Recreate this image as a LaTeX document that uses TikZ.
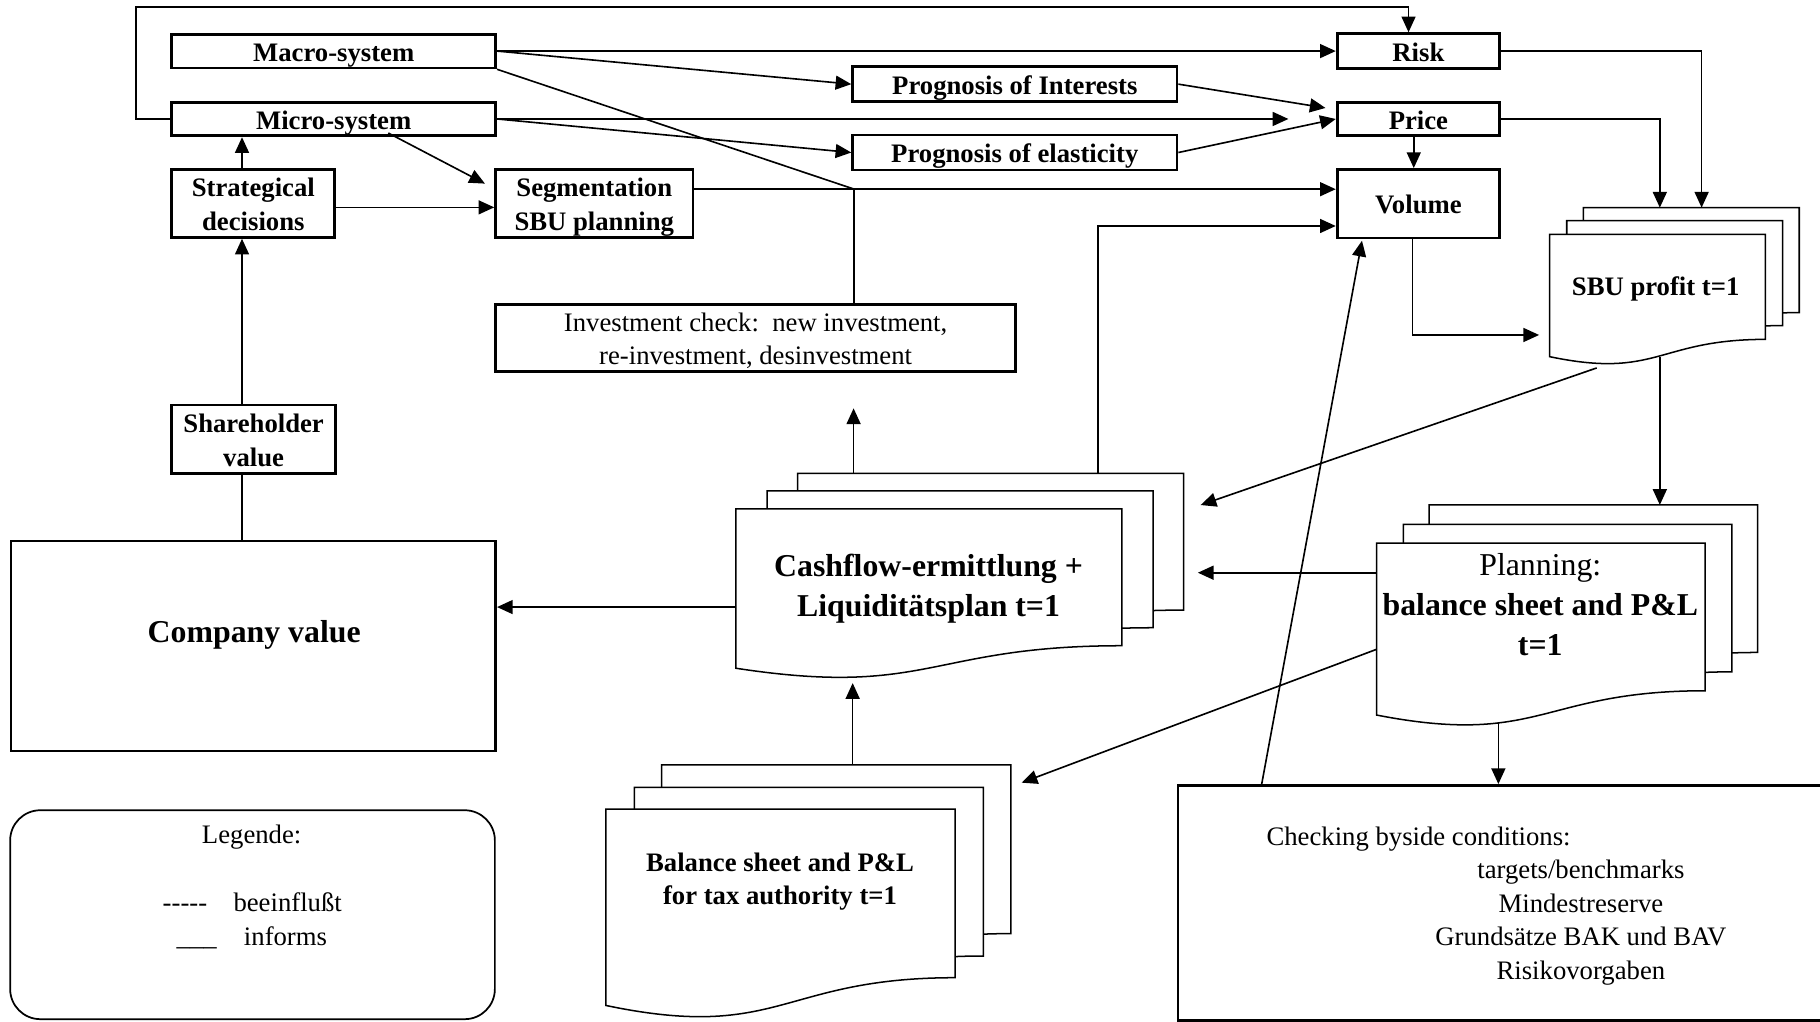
\documentclass[tikz,border=0pt]{standalone}
\usepackage{fontspec}
\setmainfont{Liberation Serif}
\usetikzlibrary{arrows.meta,calc}

\newcommand{\smallfont}{\fontsize{23}{29}\selectfont}
\newcommand{\bigfont}{\fontsize{27.4}{34.5}\selectfont}
% centred block of lines, set 3pt lower in its frame without changing its total size
\newcommand{\ml}[1]{\raisebox{0pt}[\dimexpr\height+3pt\relax][\dimexpr\depth-3pt\relax]{\begin{tabular}{@{}c@{}}#1\end{tabular}}}

% one sheet of a document stack: x, top y, width, height (wavy lower edge)
\newcommand{\docpage}[4]{%
  \filldraw[docline] (#1,#2) -- (#1+#3,#2) -- (#1+#3,#2+0.802*#4)
    .. controls (#1+0.5*#3,#2+0.802*#4) and (#1+0.5*#3,#2+1.1075*#4) .. (#1,#2+0.934*#4) -- cycle;}

\begin{document}
\begin{tikzpicture}[x=1pt,y=-1pt,
  box/.style={draw, line width=2.4pt, inner sep=0pt, font=\smallfont\bfseries},
  docline/.style={draw, line width=1.3pt, fill=white},
  conn/.style={line width=1.4pt},
  arr/.style={conn, -{Triangle[length=13.5pt,width=12pt]}},
  txt/.style={inner sep=0pt, font=\smallfont}]
\useasboundingbox (0,0) rectangle (1568,880);
\clip (0,0) rectangle (1568,880);

% ---------- rectangular boxes ----------
\node[box, minimum width=279pt, minimum height=28pt] (macro) at (287.5,44) {\ml{Macro-system}};
\node[box, minimum width=279pt, minimum height=29pt] (micro) at (287.5,102.5) {\ml{Micro-system}};
\node[box, minimum width=140.5pt, minimum height=58.5pt] (strat) at (218.25,175.25) {\ml{Strategical\\decisions}};
\node[box, minimum width=170pt, minimum height=58.5pt] (seg) at (512,175.25) {\ml{Segmentation\\SBU planning}};
\node[box, minimum width=141pt, minimum height=59pt] (share) at (218.5,378.5) {\ml{Shareholder\\value}};
\node[box, minimum width=417.5pt, minimum height=181pt] (company) at (218.25,556.5) {};
\node[txt, font=\bigfont\bfseries] (companytext) at (219,547) {Company value};
\node[box, font=\smallfont, minimum width=448pt, minimum height=58pt] (invest) at (651,291)
  {\ml{Investment check:\ \ new investment,\\re-investment, desinvestment}};
\node[box, minimum width=279.4pt, minimum height=30.2pt] (pi) at (874.3,72.5) {\ml{Prognosis of Interests}};
\node[box, minimum width=279.4pt, minimum height=30.2pt] (pe) at (874.3,131.4) {\ml{Prognosis of elasticity}};
\node[box, minimum width=140pt, minimum height=30pt] (risk) at (1222,44) {\ml{Risk}};
\node[box, minimum width=140pt, minimum height=29pt] (price) at (1222,102.5) {\ml{Price}};
\node[box, minimum width=140pt, minimum height=59pt] (volume) at (1222,175.5) {\ml{Volume}};
\node[box, anchor=north west, minimum width=606.4pt, minimum height=202.3pt] (check) at (1013.6,675.5) {};
\node[draw, line width=1.5pt, rounded corners=26pt, anchor=north west,
      minimum width=417.6pt, minimum height=180pt] (legend) at (8,697.3) {};

% ---------- document stacks ----------
\docpage{1364.1}{178.9}{186}{112.7}
\docpage{1349.8}{190.1}{186}{112.7}
\docpage{1335}{202}{186}{112.7}
\node[txt, font=\smallfont\bfseries] (sbu) at (1426.4,249) {SBU profit t=1};

\docpage{687.2}{407.8}{332.5}{146.9}
\docpage{661}{423}{332.5}{146.9}
\docpage{634}{438.5}{332.5}{146.9}
\node[txt, font=\bigfont\bfseries, align=center] (cash) at (800,507) {Cashflow-ermittlung +\\Liquiditätsplan t=1};

\docpage{1231.2}{435}{283}{158.5}
\docpage{1209}{451.7}{283}{158.5}
\docpage{1186}{468}{283}{158.5}
\node[txt, font=\bigfont\bfseries, align=center] (plan) at (1327,521) {{\mdseries Planning:}\\balance sheet and P\&L\\t=1};

\docpage{570}{659}{300.8}{181.2}
\docpage{546.5}{678.3}{300.8}{181.2}
\docpage{522}{697}{300.8}{181.2}
\node[txt, font=\smallfont\bfseries, align=center] (tax) at (672,759.5) {Balance sheet and P\&L\\for tax authority t=1};

% ---------- texts in checking box and legend ----------
\node[txt, anchor=base west] (chk1) at (1091,728) {Checking byside conditions:};
\node[txt, anchor=base] (chk2) at (1362,757) {targets/benchmarks};
\node[txt, anchor=base] (chk3) at (1362,786) {Mindestreserve};
\node[txt, anchor=base] (chk4) at (1362,815) {Grundsätze BAK und BAV};
\node[txt, anchor=base] (chk5) at (1362,844) {Risikovorgaben};

\node[txt, anchor=base] (leg0) at (216.8,726.6) {Legende:};
\node[txt, anchor=base west] (leg1a) at (140,785) {-{}-{}-{}-{}-};
\node[txt, anchor=base west] (leg1b) at (201,785) {beeinflußt};
\node[txt, anchor=base west] (leg2a) at (152,814.2) {\_\_\_};
\node[txt, anchor=base west] (leg2b) at (210,814.2) {informs};

% ---------- helper points ----------
\coordinate (loopTL) at (117,6);
\coordinate (J) at (736,163);
\coordinate (priceIn) at (1110,102.5);
\coordinate (priceNW) at (1142,93);
\coordinate (colA) at (208.5,0);
\coordinate (sbuR) at (1466,178.9);
\coordinate (sbuL) at (1430,178.9);
\coordinate (sbuIn) at (1326,288.6);
\coordinate (cfTopR) at (946,407.8);
\coordinate (cfTopL) at (735.4,407.8);
\coordinate (invIn) at (735.4,351.8);
\coordinate (sbuBot1) at (1375.6,317);
\coordinate (cfIn1) at (1034.4,435.1);
\coordinate (sbuBot2) at (1430,307.2);
\coordinate (plTop) at (1430,435);
\coordinate (plW1) at (1186,493.4);
\coordinate (cfIn2) at (1032,493.4);
\coordinate (plW2) at (1186,559.4);
\coordinate (taxIn) at (880.2,674.3);
\coordinate (plBot) at (1290.9,623);
\coordinate (cfW) at (634,523);
\coordinate (taxTop) at (734.6,659);
\coordinate (cfBot) at (734.6,588.5);

% ---------- connectors ----------
\draw[arr] (micro.west) -| (loopTL) -| ($(risk.north)+(-8.5,0)$);
\draw[arr] (macro.east) -- (risk.west);
\draw[arr] (macro.east) -- (pi.west);
\draw[conn] (macro.south east) -- (J);
\draw[arr] (micro.east) -- (priceIn);
\draw[arr] (micro.east) -- (pe.west);
\draw[arr] ($(micro.south)+(47,-3.6)$) -- ($(seg.north west)+(-8,13.4)$);
\draw[arr] (strat.north -| colA) -- (micro.south -| colA);
\draw[arr] ($(strat.east)+(0,3.4)$) -- ($(seg.west)+(0,3.4)$);
\draw[arr] (share.north -| colA) -- (strat.south -| colA);
\draw[conn] (share.south -| colA) -- (company.north -| colA);
\draw[arr] (seg.east |- J) -- (volume.west |- J);
\draw[conn] (J) -- (invest.north -| J);
\draw[arr] (pi.east) -- (priceNW);
\draw[arr] (pe.east) -- (price.west);
\draw[arr] ($(price.south)+(-4,0)$) -- ($(volume.north)+(-4,0)$);
\draw[arr] (risk.east) -| (sbuR);
\draw[arr] (price.east) -| (sbuL);
\draw[arr] ($(volume.south)+(-5,0)$) |- (sbuIn);
\draw[arr] (cfTopR) |- ($(volume.west)+(0,19.2)$);
\draw[arr] (cfTopL) -- (invIn);
\draw[arr] ($(check.north west)+(73.4,0)$) -- ($(volume.south west)+(22.6,1.2)$);
\draw[arr] (sbuBot1) -- (cfIn1);
\draw[arr] (sbuBot2) -- (plTop);
\draw[arr] (plW1) -- (cfIn2);
\draw[arr] (plW2) -- (taxIn);
\draw[arr] (plBot) -- (plBot |- check.north);
\draw[arr] (cfW) -- (company.east |- cfW);
\draw[arr] (taxTop) -- (cfBot);
\end{tikzpicture}
\end{document}
